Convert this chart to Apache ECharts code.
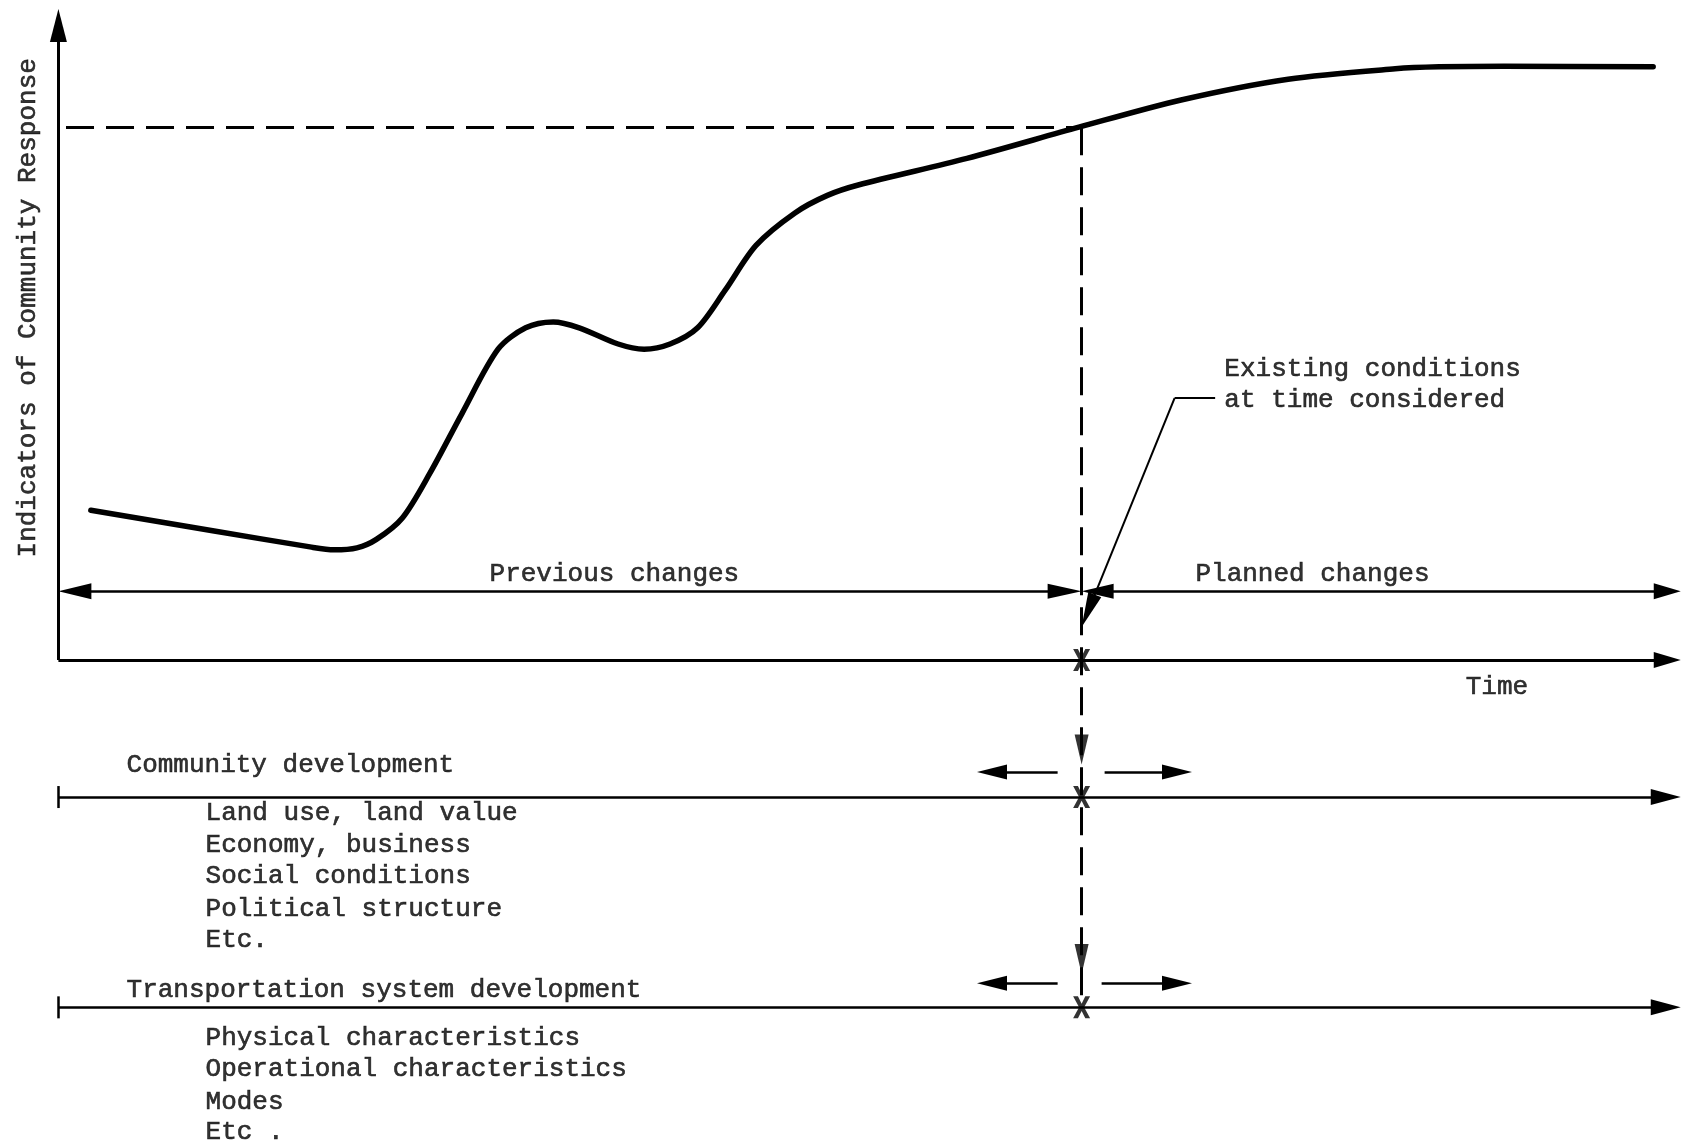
<!DOCTYPE html>
<html><head><meta charset="utf-8">
<script src="https://cdn.jsdelivr.net/npm/echarts@6/dist/echarts.min.js"></script>
<style>html,body{margin:0;padding:0;background:#fff}#c{width:1684px;height:1143px}</style>
</head><body><div id="c"></div>
<script>
// ---------- data (time units 0..100, response units 0..100) ----------
const curveTime  = [2.0, 9.6, 15.6, 17.0, 18.4, 19.6, 21.2, 22.9, 24.9, 27.1, 28.8, 30.5, 32.1, 34.5, 36.1, 37.7, 39.4, 41.1, 43.0, 45.4, 47.4, 49.3, 56.0, 62.9, 69.2, 75.8, 82.4, 85.1, 89.1, 98.3];
const curveLevel = [23.1, 19.9, 17.4, 17.0, 17.3, 18.6, 21.9, 28.8, 38.1, 47.9, 51.2, 52.1, 51.2, 48.7, 47.9, 48.7, 51.2, 57.0, 63.9, 68.9, 71.6, 73.2, 77.3, 82.1, 86.3, 89.5, 91.1, 91.4, 91.5, 91.4];
const existingTime = 63.07;
const existingLevel = 82.1;
const changesLevel = 10.6;                 // "previous / planned changes" line
const timelineLevels = [-21.1, -53.5];     // community / transportation development lines
const timeEnd = 100;
const levelTop = 100.3;

const headings = ['Previous changes', 'Planned changes', 'Existing conditions', 'at time considered', 'Time'];
const communityTitle = 'Community development';
const communityItems = ['Land use, land value', 'Economy, business', 'Social conditions', 'Political structure', 'Etc.'];
const transportTitle = 'Transportation system development';
const transportItems = ['Physical characteristics', 'Operational characteristics', 'Modes', 'Etc .'];
const yAxisTitle = 'Indicators of Community Response';

// ---------- layout ----------
const KX = 16.224, KY = 6.491;            // px per data unit
const px2x = p => p / KX, px2y = p => p / KY;
const FONT = 'Liberation Mono';
const headingPos = [[34.3, 13.2, 'center'], [77.33, 13.2, 'center'], [71.9, 44.8, 'left'], [71.9, 40.0, 'left'], [88.7, -4.2, 'center']];
const listLeft = 9.1, titleLeft = 4.23;
const communityTitleY = -16.3, communityYs = [-23.7, -28.6, -33.4, -38.5, -43.2];
const transportTitleY = -50.9, transportYs = [-58.3, -63.1, -68.2, -72.8];

const labels = [];
headings.forEach((t, i) => labels.push({ value: [headingPos[i][0], headingPos[i][1]], name: t, label: { align: headingPos[i][2] } }));
labels.push({ value: [titleLeft, communityTitleY], name: communityTitle, label: { align: 'left' } });
communityItems.forEach((t, i) => labels.push({ value: [listLeft, communityYs[i]], name: t, label: { align: 'left' } }));
labels.push({ value: [titleLeft, transportTitleY], name: transportTitle, label: { align: 'left' } });
transportItems.forEach((t, i) => labels.push({ value: [listLeft, transportYs[i]], name: t, label: { align: 'left' } }));
labels.push({ value: [-1.85, 54.2], name: yAxisTitle, label: { align: 'center', rotate: 90 } });

function seg(x1, y1, x2, y2, s1, z1, s2, z2) {
  return [
    { coord: [x1, y1], symbol: s1 || 'none', symbolSize: z1 || 1 },
    { coord: [x2, y2], symbol: s2 || 'none', symbolSize: z2 || 1 }
  ];
}
const T = 'triangle';

// axes
const axisLines = [
  seg(0, 0, 0, levelTop - px2y(16.5), 'none', 1, T, [17, 33]),
  seg(0, 0, timeEnd - px2x(13.5), 0, 'none', 1, T, [16, 27])
];
// thin solid lines
const thinLines = [
  seg(px2x(16.5), changesLevel, existingTime - px2x(17), changesLevel, T, [16, 33], T, [15, 34]),
  seg(existingTime + px2x(16), changesLevel, timeEnd - px2x(13.5), changesLevel, T, [15, 32], T, [16, 27])
];
timelineLevels.forEach((lv, i) => {
  thinLines.push(seg(0, lv, timeEnd - px2x(15), lv, 'none', 1, T, [16, 30]));
  thinLines.push(seg(0, lv + px2y(11), 0, lv - px2y(11)));
  const ay = lv + px2y(i === 0 ? 25 : 24);
  thinLines.push(seg(existingTime - px2x(24), ay, px2x(977 - 58.4) + px2x(15), ay, 'none', 1, T, [15, 30]));
  thinLines.push(seg(existingTime + px2x(i === 0 ? 23 : 20), ay, px2x(1192 - 58.4) - px2x(15), ay, 'none', 1, T, [15, 30]));
});
// dashed
const dashLines = [
  seg(px2x(7.6), existingLevel, existingTime, existingLevel),
  seg(existingTime, existingLevel, existingTime, timelineLevels[1])
];
// leader
const leaderTip = [existingTime, 5.1];
const lStart = [68.8, 40.38];
const ldx = (leaderTip[0] - lStart[0]) * KX, ldy = (leaderTip[1] - lStart[1]) * KY;
const ll = Math.sqrt(ldx * ldx + ldy * ldy);
const leaderLines = [
  seg(71.3, 40.38, lStart[0], lStart[1]),
  seg(lStart[0], lStart[1], leaderTip[0] - px2x(17.5 * ldx / ll), leaderTip[1] - px2y(17.5 * ldy / ll), 'none', 1, T, [14, 35])
];
// markers on the dashed line
const downHeads = [[existingTime, -16.1 + px2y(15)], [existingTime, -48.2 + px2y(14)]];
const crossMarks = [[existingTime, 0], [existingTime, timelineLevels[0]], [existingTime, timelineLevels[1]]];
const X_PATH = 'path://M0,0L3.4,0L6,4L8.6,0L12,0L7.8,6L12,12L8.6,12L6,8L3.4,12L0,12L4.2,6Z';

function mlSeries(data, lineStyle) {
  return {
    type: 'line', data: [], silent: true,
    markLine: { silent: true, animation: false, label: { show: false }, emphasis: { disabled: true },
      lineStyle: Object.assign({ color: '#000', type: 'solid', opacity: 1 }, lineStyle),
      itemStyle: { color: '#000' }, data: data }
  };
}

const chart = echarts.init(document.getElementById('c'), null, { renderer: 'canvas' });
chart.setOption({
  backgroundColor: '#fff',
  animation: false,
  grid: { left: 0, right: 0, top: 0, bottom: 0 },
  xAxis: { type: 'value', min: -3.6, max: 100.2, show: false },
  yAxis: { type: 'value', min: -74.4, max: 101.7, show: false },
  series: [
    { type: 'line', data: curveTime.map((t, i) => [t, curveLevel[i]]), smooth: 0.3,
      showSymbol: false, silent: true, lineStyle: { color: '#000', width: 5.5, cap: 'round', join: 'round' } },
    mlSeries(axisLines, { width: 3 }),
    mlSeries(thinLines, { width: 2.5 }),
    mlSeries(dashLines, { width: 3, type: [28, 12] }),
    mlSeries(leaderLines, { width: 2 }),
    { type: 'scatter', data: downHeads, symbol: 'triangle', symbolRotate: 180, symbolSize: [14, 30], silent: true,
      itemStyle: { color: '#000' } },
    { type: 'scatter', data: crossMarks, symbol: X_PATH, symbolSize: [17, 22], silent: true, itemStyle: { color: '#000' } },
    { type: 'scatter', data: labels, symbolSize: 1, silent: true, itemStyle: { color: 'rgba(0,0,0,0)' },
      label: { show: true, formatter: '{b}', position: [0, 0], verticalAlign: 'middle',
        fontFamily: FONT, fontSize: 26, color: '#000', textBorderColor: '#000', textBorderWidth: 0.6 } }
  ]
});
</script></body></html>
